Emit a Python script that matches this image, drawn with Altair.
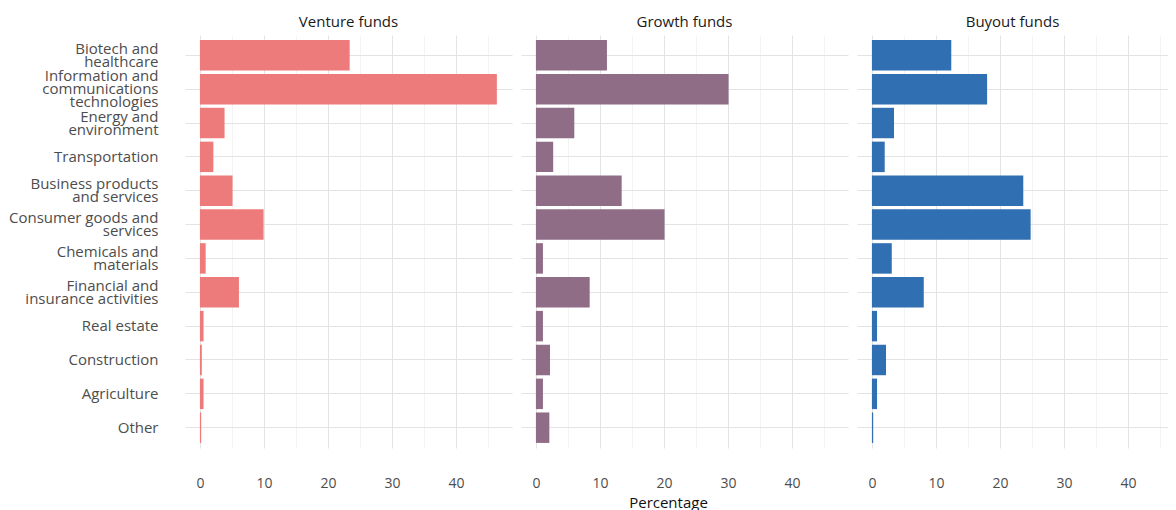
import altair as alt
import pandas as pd

categories = [
    "Biotech and\nhealthcare",
    "Information and\ncommunications\ntechnologies",
    "Energy and\nenvironment",
    "Transportation",
    "Business products\nand services",
    "Consumer goods and\nservices",
    "Chemicals and\nmaterials",
    "Financial and\ninsurance activities",
    "Real estate",
    "Construction",
    "Agriculture",
    "Other",
]
funds = ["Venture funds", "Growth funds", "Buyout funds"]
venture = [23.4, 46.4, 3.85, 2.1, 5.1, 9.95, 0.9, 6.1, 0.57, 0.3, 0.57, 0.2]
growth = [11.1, 30.1, 6.0, 2.7, 13.4, 20.1, 1.1, 8.4, 1.1, 2.2, 1.1, 2.1]
buyout = [12.4, 18.0, 3.45, 2.0, 23.65, 24.8, 3.1, 8.1, 0.8, 2.2, 0.8, 0.2]
colors = ["#EE7B7B", "#8F6D87", "#2F6FB2"]
x_ticks = [0, 5, 10, 15, 20, 25, 30, 35, 40, 45]

FONT = "Open Sans"
PX_PER_UNIT = 6.4
X_MIN = -2.33
widths = [327, 327, 311]


def panel(i, fund, vals):
    df = pd.DataFrame({"category": categories, "pct": vals})
    w = widths[i]
    x_max = X_MIN + w / PX_PER_UNIT
    x_axis = dict(
        values=x_ticks,
        labelExpr="datum.value % 10 == 0 ? datum.label : ''",
        gridColor={
            "condition": {"test": "datum.value % 10 == 0", "value": "#e3e3e3"},
            "value": "#f3f3f3",
        },
        ticks=False,
        domain=False,
        labelFontSize=14,
        labelColor="#4d4d4d",
        labelFont=FONT,
        labelPadding=28,
        labelFlush=False,
    )
    if i == 1:
        x_axis.update(
            title="Percentage",
            titleFont=FONT,
            titleFontSize=15,
            titleFontWeight="normal",
            titleColor="#111111",
            titlePadding=5,
            titleX=147,
        )
    else:
        x_axis.update(title=None)
    if i == 0:
        y_axis = alt.Axis(
            labelExpr="split(datum.label, '\\n')",
            labelFontSize=15,
            labelColor="#4d4d4d",
            labelFont=FONT,
            labelLineHeight=13,
            labelPadding=27,
            labelOffset={
                "condition": [
                    {"test": "length(split(datum.label, '\\n')) == 3", "value": -13},
                    {"test": "length(split(datum.label, '\\n')) == 2", "value": -6.5},
                ],
                "value": 0,
            },
            ticks=False,
            domain=False,
            grid=True,
            gridColor="#e3e3e3",
            bandPosition=0.5,
            minExtent=177,
            maxExtent=177,
        )
    else:
        y_axis = alt.Axis(
            labels=False,
            ticks=False,
            domain=False,
            grid=True,
            gridColor="#e3e3e3",
            bandPosition=0.5,
            minExtent=0,
            maxExtent=0,
        )
    return (
        alt.Chart(df)
        .mark_bar(color=colors[i])
        .encode(
            x=alt.X(
                "pct:Q",
                scale=alt.Scale(domain=[X_MIN, x_max], nice=False, zero=False),
                axis=alt.Axis(**x_axis),
            ),
            y=alt.Y(
                "category:N",
                sort=categories,
                title=None,
                scale=alt.Scale(paddingInner=0.1, paddingOuter=0.15, round=False),
                axis=y_axis,
            ),
        )
        .properties(
            width=w,
            height=413,
            title=alt.TitleParams(
                fund,
                anchor="middle",
                font=FONT,
                fontSize=15,
                fontWeight="normal",
                color="#1a1a1a",
                offset=5,
            ),
        )
    )


panels = [panel(i, f, v) for i, (f, v) in enumerate(zip(funds, [venture, growth, buyout]))]

chart = alt.hconcat(*panels, spacing=9).properties(
    padding={"left": 0, "top": 7, "right": 0, "bottom": 0},
).configure_view(stroke=None)

chart.save("out.html", embed_options={"renderer": "svg", "actions": False})
